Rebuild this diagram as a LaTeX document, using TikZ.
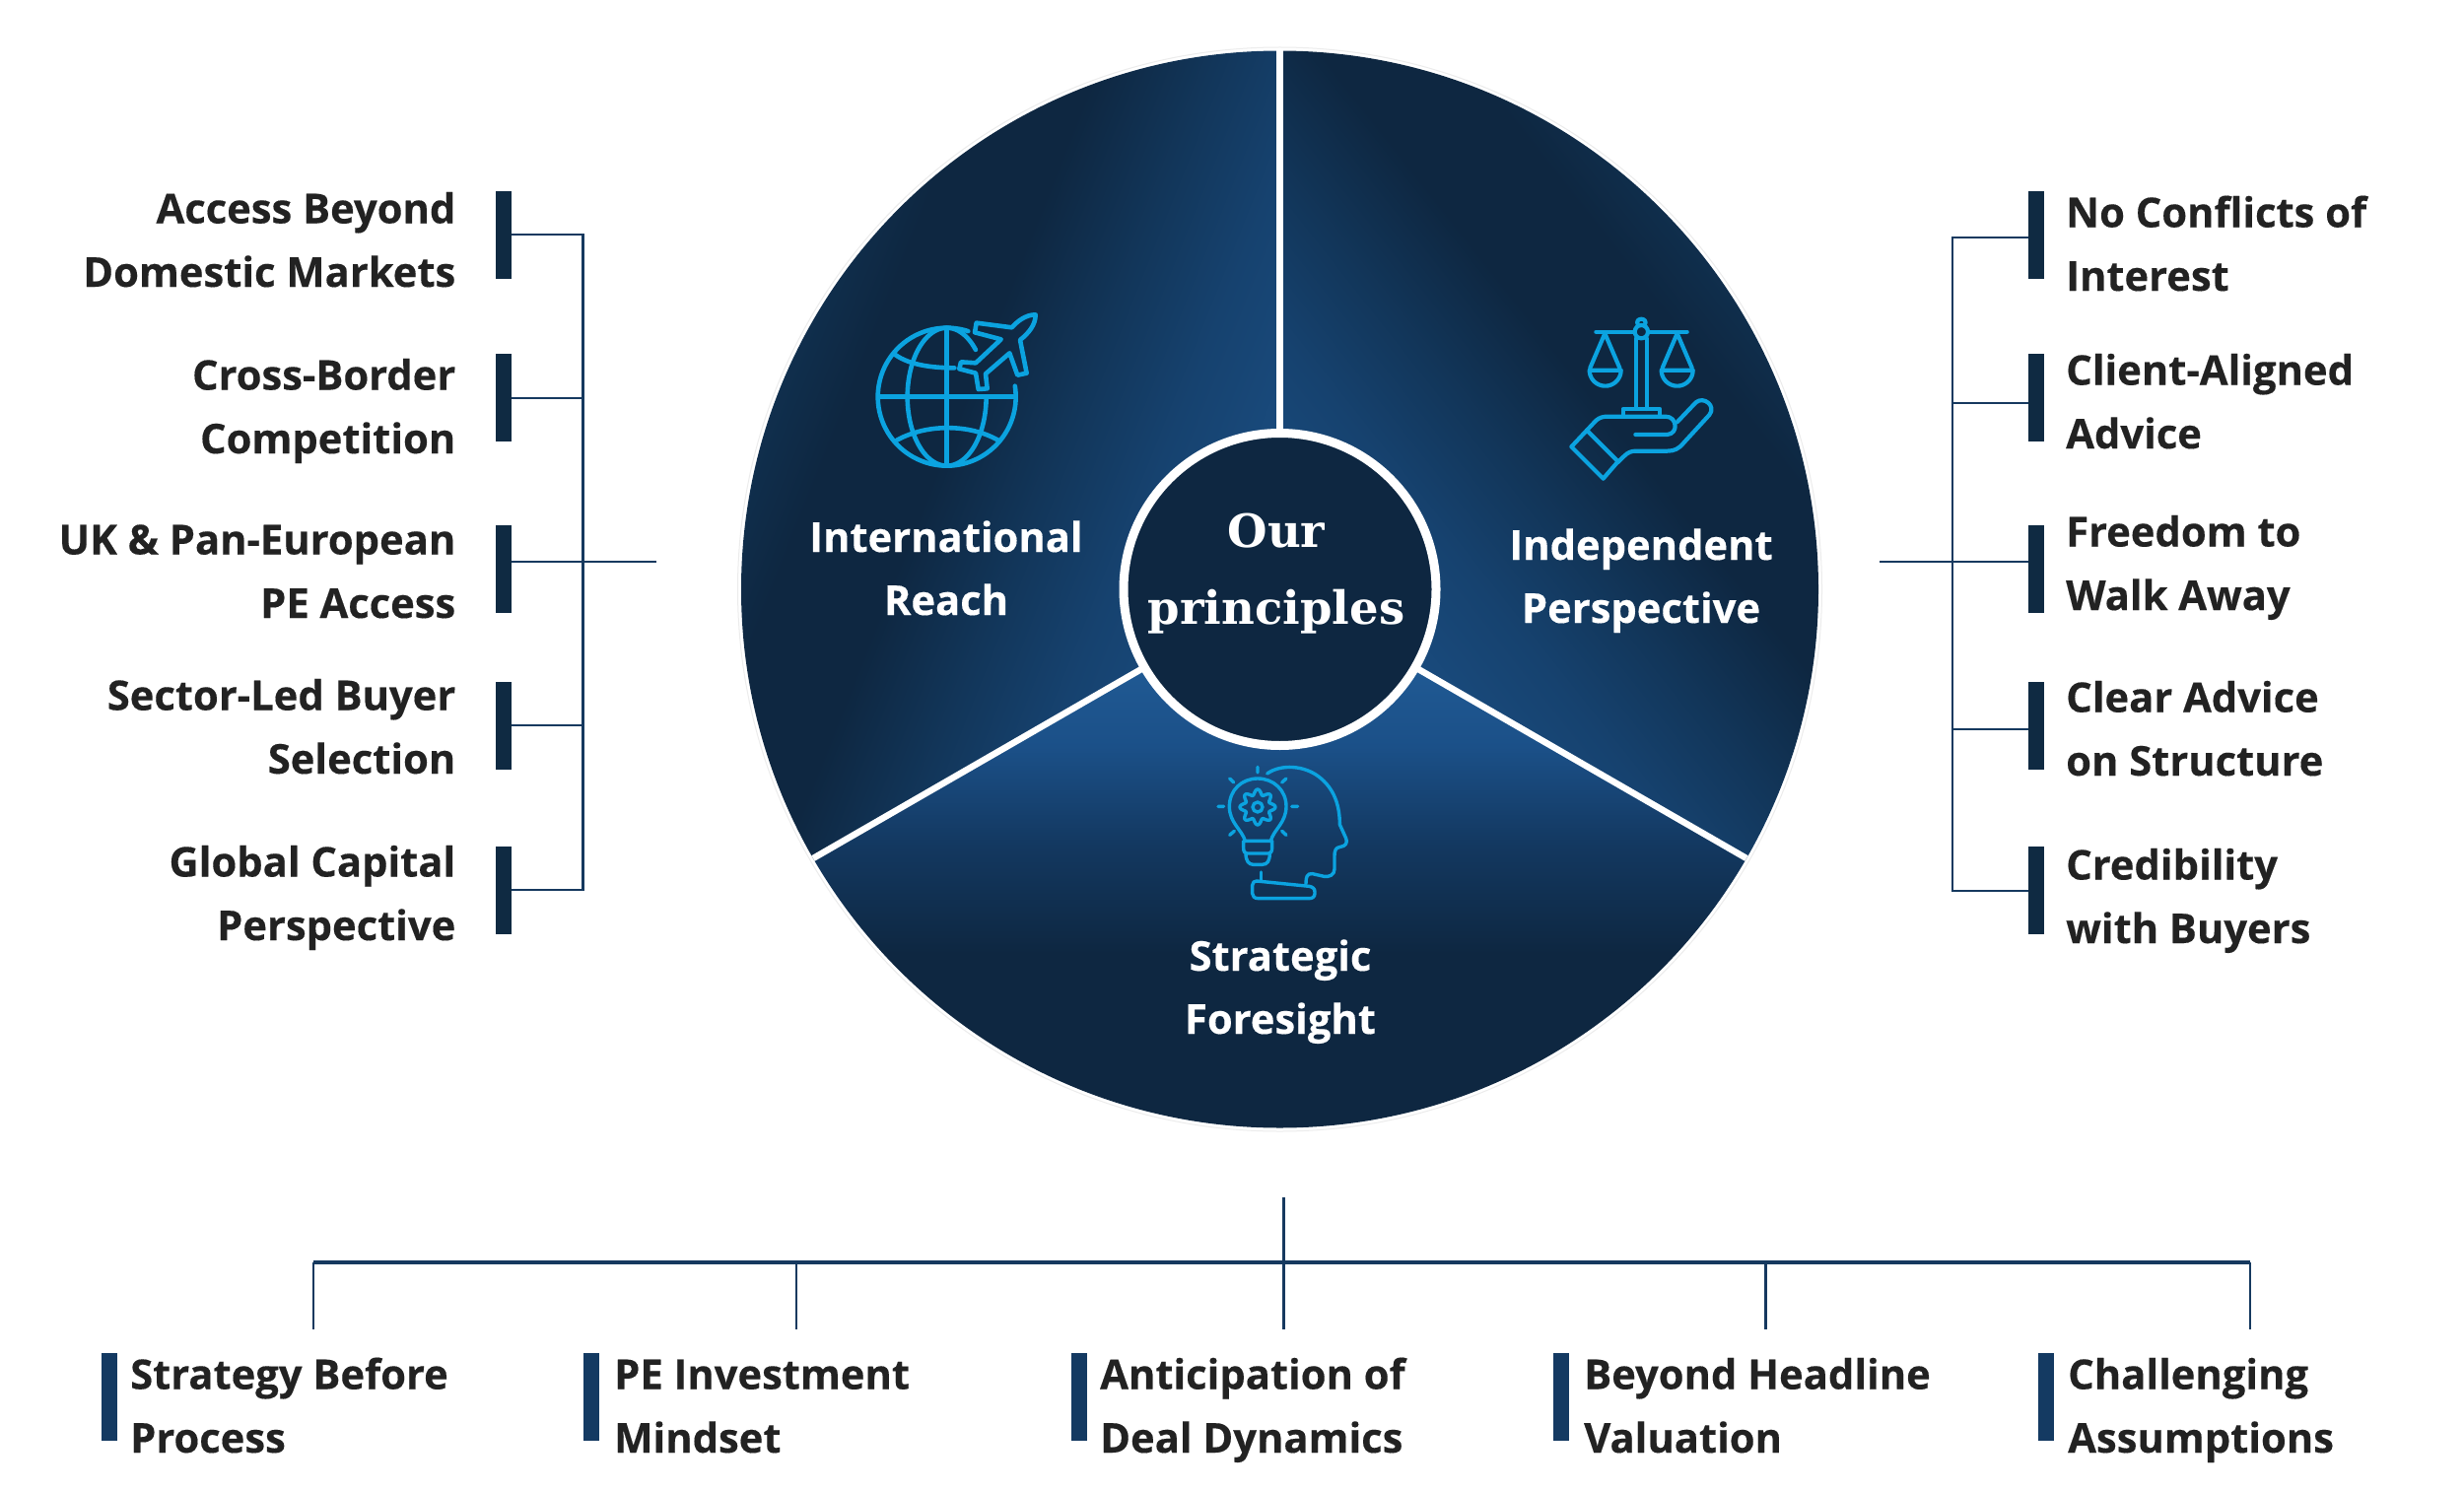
\documentclass[tikz,border=0pt]{standalone}
\usepackage{fontspec}
\setmainfont{Open Sans}[BoldFeatures={FakeBold=0.3}]
\newfontfamily\serifhead{DejaVu Serif}
\definecolor{ink}{HTML}{222222}
\definecolor{navy}{HTML}{0F2A42}
\definecolor{navyb}{HTML}{143A62}
\definecolor{wire}{HTML}{16395F}
\definecolor{core}{HTML}{0E2741}
\definecolor{cyanicon}{HTML}{0BA3E0}
\definecolor{glowb}{HTML}{133860}
\definecolor{glowc}{HTML}{1B5088}
\definecolor{glowd}{HTML}{25639F}
\definecolor{sidea}{HTML}{10304F}
\definecolor{sideb}{HTML}{12365A}
\definecolor{sidec}{HTML}{16426F}
\definecolor{sided}{HTML}{1B4F84}
\pgfdeclareverticalshading{wheelglow}{100bp}{
 color(0bp)=(core);
 color(24.4bp)=(core);
 color(33.1bp)=(core);
 color(38.1bp)=(glowb);
 color(42.7bp)=(glowc);
 color(50bp)=(glowd);
 color(100bp)=(glowd)}
\pgfdeclareverticalshading{sideglow}{100bp}{
 color(0bp)=(sidea);
 color(24.4bp)=(sidea);
 color(28.1bp)=(core);
 color(33.1bp)=(core);
 color(38.1bp)=(sideb);
 color(42.7bp)=(sidec);
 color(50bp)=(sided);
 color(100bp)=(sided)}
\tikzset{
 lab/.style={inner sep=0pt,text=ink,font=\fontsize{41.7}{64.5}\selectfont\bfseries},
 labR/.style={lab,align=right,anchor=base east},
 labL/.style={lab,align=left,anchor=base west},
 wheellab/.style={inner sep=0pt,text=white,align=center,anchor=base,font=\fontsize{41.7}{64}\selectfont\bfseries},
 barS/.style={rectangle,fill=navy,inner sep=0pt,minimum width=16,minimum height=89},
 barB/.style={rectangle,fill=navyb,inner sep=0pt,minimum width=16,minimum height=89},
 link/.style={draw=wire,line width=2.6},
 buslink/.style={draw=wire,line width=3.2},
 icon/.style={draw=cyanicon,line width=4.2,line cap=round,line join=round},
 divider/.style={draw=white,line width=6.5},
}
\begin{document}
\begin{tikzpicture}[x=1pt,y=-1pt]
\useasboundingbox (0,0) rectangle (2500,1514);
\fill[white] (0,0) rectangle (2500,1514);
\coordinate (C) at (1298.5,598);
% wheel
\begin{scope}
\clip (C) -- (1298.5,-800) -- (-1000,-800) -- (-1000,1925) -- cycle;
\shade[shading=sideglow,shading angle=-111.7] (C) circle (546.5);
\end{scope}
\begin{scope}
\clip (C) -- (1298.5,-800) -- (3597,-800) -- (3597,1925) -- cycle;
\shade[shading=sideglow,shading angle=128.3] (C) circle (546.5);
\end{scope}
\begin{scope}
\clip (C) -- (-1000,1925) -- (3597,1925) -- cycle;
\shade[shading=wheelglow,shading angle=0] (C) circle (546.5);
\end{scope}
\draw[gray!15,line width=1] (C) circle (550);
\coordinate (rimT) at (1298.5,51);
\coordinate (rimL) at (825,871);
\coordinate (rimR) at (1772,871);
\draw[divider] (C) -- (rimT);
\draw[divider] (C) -- (rimL);
\draw[divider] (C) -- (rimR);
\node[circle,draw=white,fill=core,line width=9,minimum size=317,inner sep=0pt] (hub) at (C) {};
\node[inner sep=0pt,text=white,align=center,anchor=base,font=\serifhead\fontsize{46.5}{78}\selectfont\bfseries] (hubtext) at (1295,633) {Our\\principles};
\node[wheellab] (intl) at (960,624) {International\\Reach};
\node[wheellab] (indep) at (1665,632) {Independent\\Perspective};
\node[wheellab] (strat) at (1299,1049) {Strategic\\Foresight};
% globe icon
\begin{scope}[shift={(840,280)},x=0.33333pt,y=-0.33333pt]
\draw[icon,line width=4.6] plot[domain=-9:288,samples=80] ({362+210*cos(\x)},{368+210*sin(\x)});
\draw[icon,line width=4.6] (362,160) -- (362,576);
\draw[icon,line width=4.6] (155,368) -- (570,368);
\draw[icon,line width=4.6] plot[domain=90:270,samples=50] ({362+120*cos(\x)},{368+210*sin(\x)});
\draw[icon,line width=4.6] plot[domain=0:90,samples=30] ({362+120*cos(\x)},{368+210*sin(\x)});
\draw[icon,line width=4.6] plot[domain=270:317,samples=20] ({362+120*cos(\x)},{368+210*sin(\x)});
\draw[icon,line width=4.6] (205,240) .. controls (250,272) and (320,280) .. (385,280);
\draw[icon,line width=4.6] (210,500) .. controls (300,450) and (430,450) .. (518,500);
\draw[icon,line width=4.6] (632,118) .. controls (600,118) and (575,140) .. (560,157) -- (452,143) -- (447,172) -- (527,193) -- (450,265) -- (405,262) -- (400,283) -- (450,296) -- (458,345) -- (485,343) -- (480,298) -- (553,235) -- (577,302) -- (605,296) -- (585,195) .. controls (610,175) and (632,150) .. cycle;
\end{scope}
% scales icon
\begin{scope}[shift={(1560,290)},x=0.33333pt,y=-0.33333pt]
\draw[icon] (178,140) -- (296,140) (336,140) -- (455,140);
\draw[icon] (316,140) circle (20);
\draw[icon] (306,120) .. controls (292,95) and (340,95) .. (326,120);
\draw[icon] (300,160) -- (300,375) (332,160) -- (332,375);
\draw[icon] (260,398) -- (260,375) -- (372,375) -- (372,398);
\draw[icon] (160,250) -- (205,145) -- (250,250);
\draw[icon] (158,257) -- (254,257) plot[domain=0:180,samples=30] ({206+48*cos(\x)},{257+48*sin(\x)}) -- cycle;
\draw[icon] (380,250) -- (425,145) -- (470,250);
\draw[icon] (377,257) -- (473,257) plot[domain=0:180,samples=30] ({425+48*cos(\x)},{257+48*sin(\x)}) -- cycle;
\draw[icon] (103,490) -- (150,440) -- (245,535) -- (200,587) -- cycle;
\draw[icon] (150,440) -- (178,410) .. controls (190,400) and (200,398) .. (215,398) -- (390,398) .. controls (425,398) and (430,450) .. (395,453) -- (298,453);
\draw[icon] (425,415) -- (482,355) .. controls (505,335) and (545,365) .. (523,393) -- (445,478) .. controls (430,497) and (415,503) .. (395,503) -- (300,503) .. controls (285,503) and (275,507) .. (262,520) -- (245,537);
\end{scope}
% head icon
\begin{scope}[shift={(1200,760)},x=0.33333pt,y=-0.33333pt]
\tikzset{icon/.append style={line width=3.4}}
\draw[icon] (190,280) .. controls (180,245) and (142,225) .. (142,175) .. controls (142,125) and (180,90) .. (228,90) .. controls (276,90) and (315,125) .. (315,175) .. controls (315,225) and (277,245) .. (268,280);
\draw[icon] (185,280) -- (272,280) -- (272,300) .. controls (272,312) and (268,318) .. (262,318) -- (195,318) .. controls (188,318) and (185,312) .. (185,300) -- cycle;
\draw[icon] (192,318) .. controls (192,340) and (200,352) .. (215,352) -- (242,352) .. controls (258,352) and (265,340) .. (265,318);
\draw[icon] plot[domain=0:360,samples=97,smooth] ({228+(46+8*cos(8*\x))*cos(\x)},{177+(46+8*cos(8*\x))*sin(\x)});
\draw[icon] (228,177) circle (15);
\draw[icon] (228,55) -- (228,72) (143,90) -- (155,102) (315,90) -- (302,102) (108,175) -- (125,175) (332,175) -- (350,175) (143,262) -- (157,250) (302,250) -- (315,262);
\draw[icon] (257,75) .. controls (300,45) and (370,50) .. (415,85) .. controls (460,120) and (478,170) .. (478,230) -- (497,272) .. controls (503,285) and (495,297) .. (480,298) .. controls (465,300) and (462,310) .. (462,325) -- (462,365) .. controls (462,385) and (445,390) .. (430,388) -- (395,380) .. controls (378,378) and (375,390) .. (375,410);
\draw[icon] (238,375) -- (238,402);
\draw[icon] (225,402) -- (385,418) .. controls (395,420) and (402,425) .. (402,435) -- (402,440) .. controls (402,450) and (395,455) .. (385,455) -- (230,455) .. controls (218,455) and (212,448) .. (212,440) -- (212,415) .. controls (212,406) and (218,402) .. (225,402) -- cycle;
\end{scope}
% left labels
\node[labR] (tL1) at (462.5,291) {Access Beyond\\Domestic Markets};
\node[labR] (tL2) at (462.5,460) {Cross-Border\\Competition};
\node[labR] (tL3) at (462.5,627) {UK \& Pan-European\\PE Access};
\node[labR] (tL4) at (462.5,785) {Sector-Led Buyer\\Selection};
\node[labR] (tL5) at (462.5,954) {Global Capital\\Perspective};
\node[barS] (bL1) at (510.5,238.5) {};
\node[barS] (bL2) at (510.5,403) {};
\node[barS] (bL3) at (510.5,577) {};
\node[barS] (bL4) at (510.5,736.5) {};
\node[barS] (bL5) at (510.5,903.5) {};
\coordinate (jL1) at (591.5,238);
\coordinate (jL2) at (591.5,404);
\coordinate (jL3) at (591.5,570);
\coordinate (jL4) at (591.5,736);
\coordinate (jL5) at (591.5,903);
\coordinate (stubL) at (666,570);
\draw[link] (bL1.east |- jL1) -- (jL1);
\draw[link] (bL2.east |- jL2) -- (jL2);
\draw[link] (bL3.east |- jL3) -- (stubL);
\draw[link] (bL4.east |- jL4) -- (jL4);
\draw[link] (bL5.east |- jL5) -- (jL5);
\draw[link,line cap=rect] (jL1) -- (jL5);
% right labels
\node[labL] (tR1) at (2096,295) {No Conflicts of\\Interest};
\node[labL] (tR2) at (2096,455) {Client-Aligned\\Advice};
\node[labL] (tR3) at (2096,619) {Freedom to\\Walk Away};
\node[labL] (tR4) at (2096,787) {Clear Advice\\on Structure};
\node[labL] (tR5) at (2096,957) {Credibility\\with Buyers};
\node[barS] (bR1) at (2066,238.5) {};
\node[barS] (bR2) at (2066,403) {};
\node[barS] (bR3) at (2066,577) {};
\node[barS] (bR4) at (2066,736.5) {};
\node[barS] (bR5) at (2066,903.5) {};
\coordinate (jR1) at (1981,241);
\coordinate (jR2) at (1981,409);
\coordinate (jR3) at (1981,570);
\coordinate (jR4) at (1981,740);
\coordinate (jR5) at (1981,904);
\coordinate (stubR) at (1907,570);
\draw[link] (bR1.west |- jR1) -- (jR1);
\draw[link] (bR2.west |- jR2) -- (jR2);
\draw[link] (bR3.west |- jR3) -- (stubR);
\draw[link] (bR4.west |- jR4) -- (jR4);
\draw[link] (bR5.west |- jR5) -- (jR5);
\draw[link,line cap=rect] (jR1) -- (jR5);
% bottom labels
\node[labL] (tB1) at (132,1474) {Strategy Before\\Process};
\node[labL] (tB2) at (623,1474) {PE Investment\\Mindset};
\node[labL] (tB3) at (1116,1474) {Anticipation of\\Deal Dynamics};
\node[labL] (tB4) at (1607,1474) {Beyond Headline\\Valuation};
\node[labL] (tB5) at (2098,1474) {Challenging\\Assumptions};
\node[barB] (bB1) at (111,1417.5) {};
\node[barB] (bB2) at (600,1417.5) {};
\node[barB] (bB3) at (1095,1417.5) {};
\node[barB] (bB4) at (1584,1417.5) {};
\node[barB] (bB5) at (2076,1417.5) {};
\coordinate (jB1) at (318,1281);
\coordinate (jB2) at (808,1281);
\coordinate (jB3) at (1302.5,1281);
\coordinate (jB4) at (1791.5,1281);
\coordinate (jB5) at (2283,1281);
\coordinate (eB1) at (318,1349);
\coordinate (eB2) at (808,1349);
\coordinate (eB3) at (1302.5,1349);
\coordinate (eB4) at (1791.5,1349);
\coordinate (eB5) at (2283,1349);
\coordinate (stubB) at (1302.5,1215);
\draw[buslink] (jB1) -- (jB5);
\draw[link] (jB1) -- (eB1);
\draw[link] (jB2) -- (eB2);
\draw[link] (stubB) -- (eB3);
\draw[link] (jB4) -- (eB4);
\draw[link] (jB5) -- (eB5);
\end{tikzpicture}
\end{document}
